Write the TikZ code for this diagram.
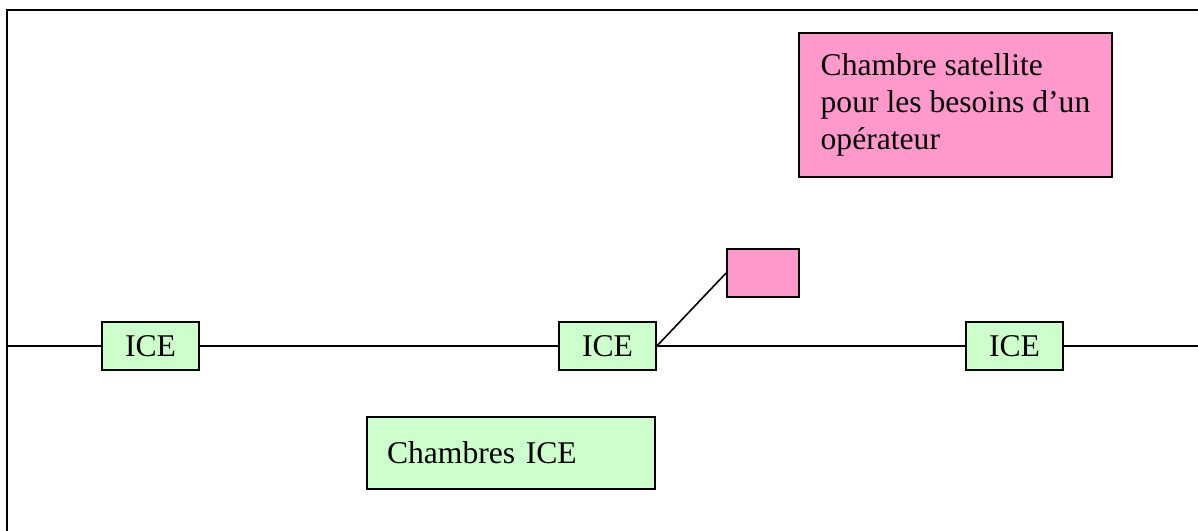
\documentclass[tikz,border=0pt]{standalone}
\usepackage{fontspec}
\setmainfont{Liberation Serif}
\usepackage{tikz}
\usetikzlibrary{positioning}
\definecolor{icegreen}{RGB}{204,255,204}
\definecolor{satpink}{RGB}{255,153,204}
\tikzstyle{chamber} = [rectangle, draw=black, line width=1pt, fill=icegreen, minimum width=1.94cm, minimum height=0.96cm, inner sep=0pt, font=\fontsize{18}{21}\selectfont]
\tikzstyle{satbox} = [rectangle, draw=black, line width=1pt, fill=satpink, minimum width=1.44cm, minimum height=0.96cm, inner sep=0pt]
\tikzstyle{legend} = [rectangle, draw=black, line width=1pt, align=left, inner xsep=0.4cm, font=\fontsize{18}{21}\selectfont]

\begin{document}
\begin{tikzpicture}[x=0.02cm, y=-0.02cm]
\useasboundingbox (0,0) rectangle (1198,531);

% cadre
\draw[line width=1.2pt] (7,531) -- (7,10) -- (1198,10);

\coordinate (lft) at (7,346);
\coordinate (rgt) at (1198,346);

\node (ice1) [chamber] at (150.5,346) {ICE};
\node (ice2) [chamber] at (607.5,346) {ICE};
\node (ice3) [chamber] at (1014.5,346) {ICE};
\node (sat) [satbox] at (763,273) {};

\draw[line width=0.9pt] (lft) -- (ice1) -- (ice2) -- (ice3) -- (rgt);
\draw[line width=0.9pt] (ice2.east) -- (sat.west);

\node (satnote) [legend, fill=satpink, minimum width=6.26cm, minimum height=2.88cm] at (955.5,105) {Chambre satellite\\pour les besoins d’un\\opérateur};

\node (icenote) [legend, fill=icegreen, text width=4.96cm, minimum height=1.44cm] at (511,453) {Chambres ICE};
\end{tikzpicture}
\end{document}
